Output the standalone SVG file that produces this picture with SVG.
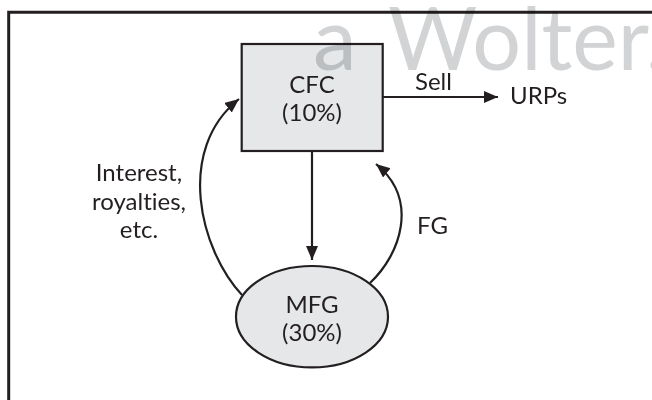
<svg xmlns="http://www.w3.org/2000/svg" width="652" height="400" viewBox="0 0 652 400">
  <style>
    .lbl { font-family: Lato, "Open Sans", sans-serif; font-size: 24px; fill: #231f20; font-variant-ligatures: none; }
    .mid { text-anchor: middle; }
    .edge { fill: none; stroke: #231f20; stroke-width: 2.2; }
    .shape { fill: #e6e7e8; stroke: #231f20; stroke-width: 2.2; }
    .wm { font-family: Lato, "Open Sans", sans-serif; font-size: 88px; fill: #d1d3d4; mix-blend-mode: multiply; }
  </style>
  <defs>
    <marker id="arrow" markerUnits="userSpaceOnUse" markerWidth="16" markerHeight="14" refX="14" refY="6" orient="auto">
      <path d="M0,0 L14,6 L0,12 Z" fill="#231f20"/>
    </marker>
  </defs>

  <rect width="652" height="400" fill="#ffffff"/>

  <!-- outer frame, open to the right and bottom -->
  <path d="M8.7,400 V12.3 H652" fill="none" stroke="#231f20" stroke-width="3"/>

  <g id="connectors">
    <path class="edge" d="M383,97 L498,97" marker-end="url(#arrow)"/>
    <path class="edge" d="M312,151 L312,260" marker-end="url(#arrow)"/>
    <path class="edge" d="M242,295 C200,250 175,150 239,99" marker-end="url(#arrow)"/>
    <path class="edge" d="M370,283 C400,255 420,200 376,164" marker-end="url(#arrow)"/>
    <text class="lbl" x="415" y="90">Sell</text>
    <text class="lbl" x="417" y="234">FG</text>
    <text class="lbl mid" x="139" y="181">Interest,</text>
    <text class="lbl mid" x="139" y="210">royalties,</text>
    <text class="lbl mid" x="139" y="238">etc.</text>
  </g>

  <g id="cfc">
    <rect class="shape" x="241.7" y="44" width="141" height="107"/>
    <text class="lbl mid" x="312" y="93">CFC</text>
    <text class="lbl mid" x="312" y="121">(10%)</text>
  </g>

  <g id="mfg">
    <ellipse class="shape" cx="312" cy="316.7" rx="76" ry="50.7"/>
    <text class="lbl mid" x="312" y="313">MFG</text>
    <text class="lbl mid" x="312" y="341">(30%)</text>
  </g>

  <g id="urps">
    <text class="lbl" x="510" y="104">URPs</text>
  </g>

  <!-- watermark, multiplied over the drawing -->
  <text class="wm" y="70"><tspan x="313">a</tspan></text>
  <text class="wm" x="388" y="70" textLength="278" lengthAdjust="spacingAndGlyphs">Wolter.</text>
</svg>
